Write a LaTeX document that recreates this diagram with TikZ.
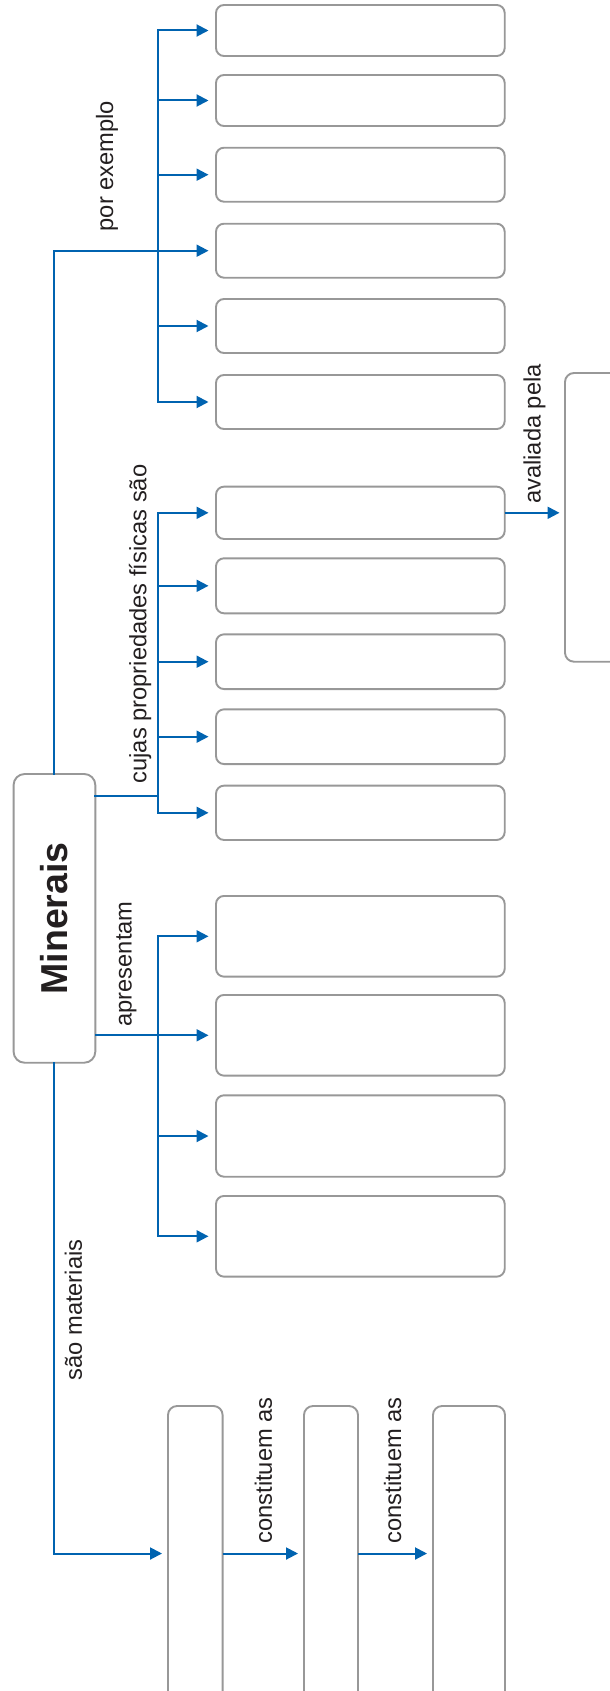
\documentclass[tikz,border=0pt]{standalone}
\usepackage{fontspec}
\setmainfont{Liberation Sans}
\usetikzlibrary{arrows.meta}
\definecolor{lineblue}{RGB}{0,99,176}
\definecolor{boxgray}{RGB}{152,152,152}
\definecolor{txt}{RGB}{35,31,32}
\begin{document}
\begin{tikzpicture}[x=1pt,y=-1pt,
  box/.style={draw=boxgray,line width=1.9pt,rounded corners=8pt,fill=white,inner sep=0pt,outer sep=0pt},
  exbox/.style={box,minimum width=288.7pt},
  conn/.style={draw=lineblue,line width=2pt,line cap=rect},
  arr/.style={draw=lineblue,line width=2pt,-{Triangle[length=12pt,width=12pt]},shorten >=7.5pt},
  lbl/.style={rotate=90,inner sep=0pt,font=\fontsize{23.7}{28}\selectfont,text=txt}]
\clip (0,0) rectangle (610,1691);
\fill[white] (0,0) rectangle (610,1691);
% central node
\node[box,rounded corners=11pt,minimum width=81.7pt,minimum height=288.7pt] (min) at (54.45,918.35) {};
\node[rotate=90,inner sep=0pt,font=\fontsize{37.5}{40}\selectfont\bfseries,text=txt] (mintext) at (min.center) {Minerais};
% examples
\node[exbox,minimum height=51pt] (ex1) at (360.35,30.5) {};
\node[exbox,minimum height=51pt] (ex2) at (360.35,100.5) {};
\node[exbox,minimum height=54pt] (ex3) at (360.35,174.7) {};
\node[exbox,minimum height=54pt] (ex4) at (360.35,250.7) {};
\node[exbox,minimum height=54pt] (ex5) at (360.35,326) {};
\node[exbox,minimum height=54pt] (ex6) at (360.35,402) {};
% properties
\node[exbox,minimum height=52.3pt] (pr1) at (360.35,512.8) {};
\node[exbox,minimum height=55pt] (pr2) at (360.35,585.8) {};
\node[exbox,minimum height=54.7pt] (pr3) at (360.35,661.7) {};
\node[exbox,minimum height=54.7pt] (pr4) at (360.35,736.7) {};
\node[exbox,minimum height=54.3pt] (pr5) at (360.35,812.8) {};
% apresentam
\node[exbox,minimum height=80.7pt] (ap1) at (360.35,936.3) {};
\node[exbox,minimum height=80.7pt] (ap2) at (360.35,1035.3) {};
\node[exbox,minimum height=81.4pt] (ap3) at (360.35,1136) {};
\node[exbox,minimum height=80.7pt] (ap4) at (360.35,1236.3) {};
% big box (cut off at right)
\node[box,rounded corners=9pt,minimum width=288.7pt,minimum height=288.7pt] (big) at (709.35,517.35) {};
% bottom boxes
\node[box,rounded corners=9pt,minimum width=54.6pt,minimum height=295pt] (bA) at (195.3,1553.5) {};
\node[box,rounded corners=9pt,minimum width=54pt,minimum height=295pt] (bB) at (331,1553.5) {};
\node[box,rounded corners=9pt,minimum width=72pt,minimum height=295pt] (bC) at (469,1553.5) {};
% helper coordinates
\coordinate (bus) at (158.4,0);
\coordinate (mp) at (95.3,795.7);
% example branch
\draw[conn] (bus |- ex1.west) -- (bus |- ex6.west);
\draw[arr,line cap=rect] (min.north) |- (ex4.west);
\foreach \n in {ex1,ex2,ex3,ex5,ex6} \draw[arr] (bus |- \n.west) -- (\n.west);
% property branch
\draw[conn] (bus |- pr1.west) -- (bus |- pr5.west);
\draw[conn] (min.east |- mp) -- (bus |- mp);
\foreach \n in {pr1,pr2,pr3,pr4,pr5} \draw[arr] (bus |- \n.west) -- (\n.west);
\draw[arr,shorten >=5.5pt] (pr1.east) -- (big.west |- pr1.east);
% apresentam branch
\draw[conn] (bus |- ap1.west) -- (bus |- ap4.west);
\draw[arr] (min.east |- ap2.west) -- (ap2.west);
\foreach \n in {ap1,ap3,ap4} \draw[arr] (bus |- \n.west) -- (\n.west);
% sao materiais branch
\draw[arr,line cap=rect,shorten >=6pt] (min.south) |- (bA.west);
\draw[arr,shorten >=6pt] (bA.east) -- (bB.west);
\draw[arr,shorten >=6pt] (bB.east) -- (bC.west);
% labels
\node[lbl] (l1) at (107,166) {por exemplo};
\node[lbl] (l2) at (140,624) {cujas propriedades físicas são};
\node[lbl] (l3) at (534.5,434) {avaliada pela};
\node[lbl] (l4) at (126.5,964) {apresentam};
\node[lbl] (l5) at (73.5,1310) {são materiais};
\node[lbl] (l6) at (263.5,1470.5) {constituem as};
\node[lbl] (l7) at (392.6,1470.5) {constituem as};
\end{tikzpicture}
\end{document}
